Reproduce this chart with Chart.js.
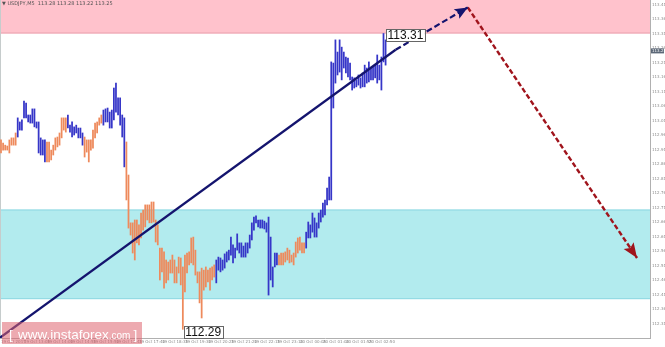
<!DOCTYPE html>
<html>
<head>
<meta charset="utf-8">
<script src="https://cdn.jsdelivr.net/npm/chart.js@4.4.0/dist/chart.umd.min.js"></script>
<style>
  html, body { margin: 0; padding: 0; background: #fff; overflow: hidden; }
</style>
</head>
<body>
<canvas id="chart" width="665" height="347"></canvas>
<script>
// bar highs / lows, one per bar (USDJPY)
const highs = [
  112.943, 112.932, 112.925, 112.922, 112.943, 112.950, 112.950, 112.967, 113.019, 113.005,
  113.012, 113.077, 113.070, 113.029, 113.029, 113.050, 113.050, 113.005, 113.005, 112.950,
  112.943, 112.943, 112.936, 112.936, 112.908, 112.925, 112.950, 112.953, 112.967, 113.019,
  113.019, 113.019, 113.029, 112.994, 113.005, 112.988, 112.994, 112.984, 112.984, 112.967,
  112.953, 112.943, 112.943, 112.943, 112.977, 113.001, 113.005, 113.019, 113.029, 113.046,
  113.050, 113.053, 113.039, 113.046, 113.122, 113.139, 113.088, 113.088, 113.029, 113.019,
  112.936, 112.822, 112.657, 112.657, 112.667, 112.667, 112.650, 112.691, 112.701, 112.719,
  112.719, 112.719, 112.729, 112.729, 112.667, 112.650, 112.570, 112.570, 112.557, 112.529,
  112.522, 112.529, 112.546, 112.529, 112.505, 112.539, 112.536, 112.505, 112.546, 112.553,
  112.557, 112.605, 112.608, 112.563, 112.488, 112.488, 112.501, 112.494, 112.505, 112.494,
  112.501, 112.505, 112.512, 112.529, 112.539, 112.536, 112.529, 112.550, 112.557, 112.563,
  112.608, 112.581, 112.570, 112.619, 112.588, 112.588, 112.577, 112.588, 112.588, 112.615,
  112.657, 112.677, 112.681, 112.667, 112.667, 112.667, 112.663, 112.657, 112.677, 112.608,
  112.505, 112.553, 112.553, 112.546, 112.553, 112.553, 112.557, 112.570, 112.563, 112.546,
  112.553, 112.591, 112.605, 112.608, 112.588, 112.588, 112.625, 112.660, 112.650, 112.691,
  112.674, 112.657, 112.691, 112.701, 112.725, 112.736, 112.777, 112.815, 113.212, 113.208,
  113.288, 113.246, 113.288, 113.263, 113.246, 113.229, 113.225, 113.208, 113.160, 113.157,
  113.150, 113.167, 113.157, 113.174, 113.201, 113.191, 113.212, 113.191, 113.194, 113.201,
  113.236, 113.201, 113.229, 113.310, 113.288
];
const lows = [
  112.898, 112.908, 112.908, 112.908, 112.898, 112.925, 112.925, 112.925, 112.953, 112.977,
  112.977, 113.019, 113.019, 113.005, 113.001, 113.001, 112.988, 112.984, 112.898, 112.891,
  112.891, 112.867, 112.867, 112.867, 112.874, 112.891, 112.908, 112.919, 112.925, 112.950,
  112.977, 112.970, 112.984, 112.970, 112.953, 112.960, 112.967, 112.950, 112.950, 112.925,
  112.884, 112.901, 112.867, 112.908, 112.915, 112.950, 112.967, 112.994, 113.001, 112.994,
  113.005, 113.005, 112.984, 112.984, 113.012, 113.039, 113.029, 112.994, 112.953, 112.850,
  112.736, 112.639, 112.615, 112.553, 112.529, 112.588, 112.581, 112.605, 112.632, 112.643,
  112.667, 112.657, 112.657, 112.660, 112.591, 112.581, 112.460, 112.488, 112.432, 112.450,
  112.460, 112.484, 112.484, 112.450, 112.450, 112.484, 112.443, 112.290, 112.419, 112.484,
  112.512, 112.519, 112.512, 112.477, 112.450, 112.381, 112.329, 112.425, 112.436, 112.453,
  112.425, 112.460, 112.470, 112.450, 112.494, 112.488, 112.494, 112.501, 112.522, 112.529,
  112.546, 112.519, 112.536, 112.563, 112.553, 112.539, 112.539, 112.539, 112.553, 112.570,
  112.598, 112.632, 112.657, 112.643, 112.639, 112.639, 112.636, 112.625, 112.408, 112.460,
  112.436, 112.505, 112.512, 112.512, 112.512, 112.512, 112.522, 112.529, 112.519, 112.522,
  112.512, 112.539, 112.553, 112.563, 112.553, 112.553, 112.570, 112.605, 112.605, 112.625,
  112.608, 112.608, 112.639, 112.660, 112.677, 112.684, 112.719, 112.736, 112.736, 113.053,
  113.139, 113.167, 113.177, 113.150, 113.191, 113.174, 113.160, 113.150, 113.115, 113.122,
  113.126, 113.132, 113.122, 113.126, 113.126, 113.139, 113.143, 113.150, 113.150, 113.157,
  113.139, 113.150, 113.115, 113.212, 113.201
];
// wave segments: [bar count, wave]
const waveRuns = [[8, 'a'], [14, 'b'], [10, 'a'], [8, 'b'], [9, 'a'], [11, 'b'],
                  [43, 'a'], [30, 'b'], [13, 'a'], [39, 'b']];

const priceTicks = [112.31, 112.36, 112.41, 112.46, 112.51, 112.56, 112.61, 112.66, 112.71,
  112.76, 112.81, 112.86, 112.91, 112.96, 113.01, 113.06, 113.11, 113.16, 113.21, 113.26,
  113.31, 113.36, 113.41];
const timeTickBars = [0, 11, 22, 33, 44, 55, 66, 77, 88, 99, 110, 121, 132, 143, 154, 165, 176];
const timeLabels = ['19 Oct 2017', '19 Oct 13:05', '19 Oct 14:00', '19 Oct 14:55', '19 Oct 15:50',
  '19 Oct 16:45', '19 Oct 17:40', '19 Oct 18:35', '19 Oct 19:30', '19 Oct 20:25', '19 Oct 21:20',
  '19 Oct 22:15', '19 Oct 23:10', '20 Oct 00:05', '20 Oct 01:00', '20 Oct 01:55', '20 Oct 02:50'];

const resistZone = [113.31, 113.43];
const supportZone = [112.394, 112.703];
const trendSolid = [{ x: -2, y: 112.253 }, { x: 188.8, y: 113.254 }];
const trendDashed = [{ x: 188.8, y: 113.254 }, { x: 223.3, y: 113.400 }];
const forecast = [{ x: 223.3, y: 113.400 }, { x: 304.3, y: 112.536 }];
const lastPrice = 113.25;
const headerText = '\u25BC USDJPY,M5  113.28 113.28 113.22 113.25';
const highBar = 183;
const lowBar = 87;

const ORANGE = '#ee8a5c';
const BLUE = '#3636c8';

const barColors = [];
waveRuns.forEach(([n, w]) => {
    for (let k = 0; k < n; k++) barColors.push(w === 'a' ? ORANGE : BLUE);
});

function arrowHead(ctx, fx, fy, tx, ty, len, half, color) {
    const ang = Math.atan2(ty - fy, tx - fx);
    ctx.save();
    ctx.translate(tx, ty);
    ctx.rotate(ang);
    ctx.beginPath();
    ctx.moveTo(0, 0);
    ctx.lineTo(-len, -half);
    ctx.lineTo(-len * 0.8, 0);
    ctx.lineTo(-len, half);
    ctx.closePath();
    ctx.fillStyle = color;
    ctx.fill();
    ctx.restore();
}

function priceBox(ctx, text, left, top) {
    ctx.font = '12px "Liberation Sans", Arial, sans-serif';
    const w = ctx.measureText(text).width + 3;
    ctx.fillStyle = '#fff';
    ctx.fillRect(left, top, w, 12);
    ctx.strokeStyle = '#666';
    ctx.lineWidth = 1;
    ctx.strokeRect(Math.round(left) + 0.5, Math.round(top) + 0.5, Math.round(w), 12);
    ctx.fillStyle = '#111';
    ctx.textBaseline = 'middle';
    ctx.textAlign = 'left';
    ctx.fillText(text, left + 1.5, top + 6.5);
}

// no label padding around the plot: the chart fills the window
const noPad = s => { s.paddingTop = 0; s.paddingBottom = 0; s.paddingLeft = 0; s.paddingRight = 0; };

const overlay = {
    id: 'overlay',
    beforeDatasetsDraw(chart) {
        const { ctx, chartArea: a, scales: { y } } = chart;
        ctx.save();
        let t = Math.max(a.top, y.getPixelForValue(resistZone[1]));
        let b = y.getPixelForValue(resistZone[0]);
        ctx.fillStyle = '#ffc2cc';
        ctx.fillRect(a.left, t, a.right - a.left, b - t);
        ctx.fillStyle = '#e9a3ae';
        ctx.fillRect(a.left, b - 1, a.right - a.left, 1);

        t = y.getPixelForValue(supportZone[1]);
        b = y.getPixelForValue(supportZone[0]);
        ctx.fillStyle = '#b2ebee';
        ctx.fillRect(a.left, t, a.right - a.left, b - t);
        ctx.fillStyle = '#8fd8e2';
        ctx.fillRect(a.left, t, a.right - a.left, 1);
        ctx.fillRect(a.left, b - 1, a.right - a.left, 1);

        ctx.fillStyle = '#c6cccc';
        ctx.fillRect(a.left, a.top, 1, a.bottom - a.top);
        ctx.restore();
    },
    afterDraw(chart) {
        const { ctx, chartArea: a, scales: { x, y } } = chart;
        ctx.save();
        // arrow heads
        const ax = x.getPixelForValue(trendDashed[1].x), ay = y.getPixelForValue(trendDashed[1].y);
        const sx = x.getPixelForValue(trendDashed[0].x), sy = y.getPixelForValue(trendDashed[0].y);
        arrowHead(ctx, sx, sy, ax, ay, 13, 5.5, '#14146e');
        const rx = x.getPixelForValue(forecast[1].x), ry = y.getPixelForValue(forecast[1].y);
        arrowHead(ctx, ax, ay, rx, ry, 15, 6, '#a0141c');

        // extreme labels
        priceBox(ctx, highs[highBar].toFixed(2),
            x.getPixelForValue(highBar) + 2.5, y.getPixelForValue(highs[highBar]) - 4.5);
        priceBox(ctx, lows[lowBar].toFixed(2),
            x.getPixelForValue(lowBar) + 1, y.getPixelForValue(lows[lowBar]) - 3);

        // header
        ctx.font = '5px "DejaVu Sans", sans-serif';
        ctx.fillStyle = '#555';
        ctx.textBaseline = 'middle';
        ctx.textAlign = 'left';
        ctx.fillText(headerText, 2, 4);

        // last price marker on the axis
        const lp = y.getPixelForValue(lastPrice);
        ctx.fillStyle = '#5c6878';
        ctx.fillRect(a.right + 1, lp - 2.5, 13, 5);
        ctx.fillStyle = '#fff';
        ctx.font = '4px "DejaVu Sans", sans-serif';
        ctx.fillText(lastPrice.toFixed(2), a.right + 2, lp);

        // watermark
        ctx.fillStyle = 'rgba(222, 100, 112, 0.55)';
        ctx.fillRect(2, 322, 140, 22);
        ctx.fillStyle = '#fff';
        ctx.textBaseline = 'alphabetic';
        ctx.font = '13.5px "Liberation Sans", Arial, sans-serif';
        let px = 9;
        ctx.fillText('[', px, 339); px += 9;
        ctx.fillText('www.instaforex', px, 339); px += ctx.measureText('www.instaforex').width;
        ctx.font = '10px "Liberation Sans", Arial, sans-serif';
        ctx.fillText('.com', px, 339); px += ctx.measureText('.com').width + 3;
        ctx.font = '13.5px "Liberation Sans", Arial, sans-serif';
        ctx.fillText(']', px, 339);
        ctx.restore();
    }
};

new Chart(document.getElementById('chart'), {
    type: 'bar',
    data: {
        datasets: [
            {
                type: 'line',
                data: trendSolid,
                borderColor: '#14146e',
                borderWidth: 2.2,
                pointRadius: 0,
                order: 1
            },
            {
                type: 'line',
                data: trendDashed,
                borderColor: '#14146e',
                borderWidth: 2.2,
                borderDash: [6, 3],
                pointRadius: 0,
                order: 1
            },
            {
                type: 'line',
                data: forecast,
                borderColor: '#a0141c',
                borderWidth: 2.4,
                borderDash: [5, 2.5],
                pointRadius: 0,
                order: 1
            },
            {
                data: highs.map((h, i) => ({ x: i, y: [lows[i], h] })),
                backgroundColor: barColors,
                borderWidth: 0,
                barThickness: 1.1,
                order: 2
            }
        ]
    },
    options: {
        responsive: false,
        animation: false,
        devicePixelRatio: 1,
        layout: { padding: 0 },
        plugins: { legend: { display: false }, tooltip: { enabled: false } },
        scales: {
            x: {
                type: 'linear',
                offset: false,
                min: -0.48,
                max: 310.5,
                grid: { display: false, drawTicks: false },
                border: { display: true, color: '#b0b0b0' },
                afterBuildTicks: s => { s.ticks = timeTickBars.map(v => ({ value: v })); },
                afterFit: s => { s.height = 9; noPad(s); },
                ticks: {
                    autoSkip: false,
                    maxRotation: 0,
                    align: 'start',
                    padding: 2,
                    color: '#8a8a8a',
                    font: { size: 4, family: 'DejaVu Sans' },
                    callback: (v, i) => timeLabels[i]
                }
            },
            y: {
                position: 'right',
                min: 112.26,
                max: 113.4255,
                grid: { display: false, drawTicks: false },
                border: { display: true, color: '#b0b0b0' },
                afterBuildTicks: s => { s.ticks = priceTicks.map(v => ({ value: v })); },
                afterFit: s => { s.width = 15; noPad(s); },
                ticks: {
                    autoSkip: false,
                    padding: 2,
                    color: '#8a8a8a',
                    font: { size: 4, family: 'DejaVu Sans' },
                    callback: v => v.toFixed(2)
                }
            }
        }
    },
    plugins: [overlay]
});
</script>
</body>
</html>
